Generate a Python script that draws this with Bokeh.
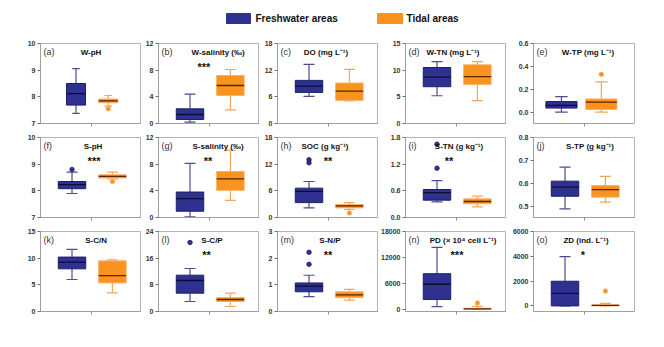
from bokeh.plotting import figure
from bokeh.layouts import column, row
from bokeh.models import Range1d, FixedTicker, ColumnDataSource, Label, NumeralTickFormatter
from bokeh.embed import file_html
from bokeh.resources import INLINE
from bokeh.core.properties import value

# ---------------- data ----------------
groups = ["Freshwater areas", "Tidal areas"]
panel_tags = ["(a)", "(b)", "(c)", "(d)", "(e)", "(f)", "(g)", "(h)", "(i)", "(j)",
              "(k)", "(l)", "(m)", "(n)", "(o)"]
titles = ["W-pH", "W-salinity (‰)", "DO (mg L⁻¹)", "W-TN (mg L⁻¹)", "W-TP (mg L⁻¹)",
          "S-pH", "S-salinity (‰)", "SOC (g kg⁻¹)", "S-TN (g kg⁻¹)", "S-TP (g kg⁻¹)",
          "S-C/N", "S-C/P", "S-N/P", "PD (× 10⁴ cell L⁻¹)", "ZD (ind. L⁻¹)"]
signif = ["", "***", "", "", "", "***", "**", "**", "**", "", "", "**", "**", "***", "*"]

y_lo = [7, 0, 0, 0, -0.1, 7, 0, 0, 0, 0.45, 0, 0, 0, -500, -450]
y_hi = [10, 12, 18, 15, 0.6, 10, 12, 18, 1.8, 0.8, 15, 24, 3, 18000, 6000]
y_ticks = [[7, 8, 9, 10], [0, 4, 8, 12], [0, 6, 12, 18], [0, 5, 10, 15], [0.0, 0.2, 0.4, 0.6],
           [7, 8, 9, 10], [0, 4, 8, 12], [0, 6, 12, 18], [0.0, 0.6, 1.2, 1.8], [0.5, 0.6, 0.7, 0.8],
           [0, 5, 10, 15], [0, 8, 16, 24], [0, 1, 2, 3], [0, 6000, 12000, 18000], [0, 2000, 4000, 6000]]
tick_format = ["0", "0", "0", "0", "0.0", "0", "0", "0", "0.0", "0.0", "0", "0", "0", "0", "0"]

fresh_low = [7.38, 0.2, 6.1, 5.2, 0.0, 7.9, 0.1, 2.16, 0.35, 0.488, 6.0, 3.0, 0.56, 610, 0]
fresh_q1 = [7.69, 0.6, 7.0, 6.9, 0.035, 8.08, 0.94, 3.35, 0.39, 0.543, 8.0, 5.5, 0.74, 2290, 0]
fresh_med = [8.12, 1.35, 8.4, 8.7, 0.058, 8.23, 2.83, 5.9, 0.56, 0.583, 9.26, 9.3, 0.95, 5800, 1010]
fresh_q3 = [8.5, 2.2, 9.7, 10.5, 0.092, 8.35, 3.82, 6.6, 0.63, 0.609, 10.2, 10.9, 1.07, 8240, 1990]
fresh_high = [9.06, 4.4, 13.3, 11.6, 0.136, 8.7, 8.13, 8.1, 0.83, 0.67, 11.66, 12.9, 1.36, 14340, 3980]
fresh_out = [[], [], [], [], [], [8.8], [], [13.0, 12.3], [1.11, 1.65], [], [], [20.7], [2.22, 1.77], [], []]

tidal_low = [7.65, 2.05, 5.1, 4.3, 0.0, 8.45, 2.58, 1.8, 0.24, 0.517, 3.5, 1.5, 0.43, 0, 0]
tidal_q1 = [7.78, 4.2, 5.2, 7.3, 0.023, 8.48, 4.07, 2.16, 0.31, 0.539, 5.36, 3.0, 0.52, 40, 0]
tidal_med = [7.85, 5.7, 7.3, 8.8, 0.087, 8.54, 5.8, 2.6, 0.36, 0.572, 6.74, 3.6, 0.62, 120, 50]
tidal_q3 = [7.92, 7.2, 9.1, 11.0, 0.115, 8.6, 6.9, 2.9, 0.42, 0.59, 9.5, 4.2, 0.74, 250, 80]
tidal_high = [8.05, 8.1, 12.2, 11.6, 0.265, 8.7, 10.1, 3.35, 0.48, 0.63, 9.7, 5.5, 0.83, 700, 210]
tidal_out = [[7.55], [], [], [], [0.33], [8.35], [], [1.04], [], [], [], [], [], [1450], [1200]]

# ---------------- styles ----------------
BLUE_FILL, BLUE_LINE, BLUE_WHISK, BLUE_MED = "#2e3190", "#1d1f6a", "#4a4e8c", "#0c0c30"
ORG_FILL, ORG_LINE, ORG_WHISK, ORG_MED = "#f7931e", "#fbb06a", "#f5a55e", "#5a2500"
FONT = "Liberation Sans"
FRAME_W, FRAME_H = 101, 80
border_left = [40, 17, 18, 27, 27]
border_right = [0, 0, 0, 0, 30]
x_ranges = {0: (-0.1, 3.03), 4: (0.30, 2.83)}
box_widths = {0: 0.59, 4: 0.78}
title_frac = [0.5, 0.59, 0.48, 0.47, 0.54, 0.52, 0.59, 0.47, 0.53, 0.56, 0.55, 0.53, 0.52, 0.57, 0.52]
star_frac = [0.5, 0.45, 0.5, 0.5, 0.5, 0.53, 0.49, 0.50, 0.43, 0.5, 0.5, 0.475, 0.5, 0.51, 0.49]


def make_panel(i):
    col = i % 5
    x0, x1 = x_ranges.get(i, (0.22, 2.72))
    bw = box_widths.get(i, 0.68)
    y0, y1 = y_lo[i], y_hi[i]
    p = figure(frame_width=FRAME_W, frame_height=FRAME_H,
               x_range=Range1d(x0, x1), y_range=Range1d(y0, y1),
               output_backend="svg", toolbar_location=None,
               min_border_left=border_left[col], min_border_right=border_right[col],
               min_border_top=8, min_border_bottom=6)
    p.background_fill_color = "white"
    p.border_fill_color = "white"
    p.outline_line_color = "#b3b3b3"
    p.xgrid.grid_line_color = None
    p.ygrid.grid_line_color = None

    ya = p.yaxis[0]
    ya.ticker = FixedTicker(ticks=y_ticks[i])
    ya.formatter = NumeralTickFormatter(format=tick_format[i])
    ya.axis_line_color = "#a0a0a0"
    ya.major_tick_line_color = "#707070"
    ya.major_tick_out = 3
    ya.major_tick_in = 0
    ya.minor_tick_line_color = None
    ya.major_label_standoff = 2
    ya.major_label_text_font = FONT
    ya.major_label_text_font_size = "7px"
    ya.major_label_text_font_style = "bold"
    ya.major_label_text_color = "#333333"

    xa = p.xaxis[0]
    xa.ticker = FixedTicker(ticks=[(x0 + x1) / 2])
    xa.axis_line_color = "#a0a0a0"
    xa.major_tick_line_color = "#909090"
    xa.major_tick_out = 3
    xa.major_tick_in = 0
    xa.minor_tick_line_color = None
    xa.major_label_text_color = None
    xa.major_label_text_font_size = "0px"
    xa.major_label_standoff = 0

    src = ColumnDataSource(dict(
        x=[1, 2],
        low=[fresh_low[i], tidal_low[i]],
        q1=[fresh_q1[i], tidal_q1[i]],
        med=[fresh_med[i], tidal_med[i]],
        q3=[fresh_q3[i], tidal_q3[i]],
        high=[fresh_high[i], tidal_high[i]],
        xl=[1 - bw / 2, 2 - bw / 2], xr=[1 + bw / 2, 2 + bw / 2],
        cl=[1 - bw * 0.2, 2 - bw * 0.2], cr=[1 + bw * 0.2, 2 + bw * 0.2],
        fill=[BLUE_FILL, ORG_FILL], line=[BLUE_LINE, ORG_LINE],
        whisk=[BLUE_WHISK, ORG_WHISK], medc=[BLUE_MED, ORG_MED],
    ))
    # whiskers
    p.segment(x0="x", y0="low", x1="x", y1="q1", source=src, line_color="whisk", line_width=1.2)
    p.segment(x0="x", y0="q3", x1="x", y1="high", source=src, line_color="whisk", line_width=1.2)
    p.segment(x0="cl", y0="low", x1="cr", y1="low", source=src, line_color="whisk", line_width=1.2)
    p.segment(x0="cl", y0="high", x1="cr", y1="high", source=src, line_color="whisk", line_width=1.2)
    # boxes
    p.vbar(x="x", width=bw, bottom="q1", top="q3", source=src,
           fill_color="fill", line_color="line", line_width=1)
    p.segment(x0="xl", y0="med", x1="xr", y1="med", source=src, line_color="medc", line_width=1.3)

    # outliers
    ox, oy, oc, ol = [], [], [], []
    for v in fresh_out[i]:
        ox.append(1); oy.append(v); oc.append(BLUE_FILL); ol.append(BLUE_LINE)
    for v in tidal_out[i]:
        ox.append(2); oy.append(v); oc.append(ORG_FILL); ol.append(ORG_LINE)
    if ox:
        p.scatter(x=ox, y=oy, size=4.5, fill_color=oc, line_color=ol, line_width=0.8)

    # texts
    def ypix(px):
        return y1 - px / FRAME_H * (y1 - y0)

    def xfrac(f):
        return x0 + f * (x1 - x0)

    p.add_layout(Label(x=xfrac(0.03), y=ypix(8.5), text=panel_tags[i], text_align="left",
                       text_baseline="middle", text_font=FONT, text_font_size="9px",
                       text_color="#333333"))
    p.add_layout(Label(x=xfrac(title_frac[i]), y=ypix(8.5), text=titles[i], text_align="center",
                       text_baseline="middle", text_font=FONT, text_font_size="8px",
                       text_font_style="bold", text_color="#111111"))
    if signif[i]:
        p.add_layout(Label(x=xfrac(star_frac[i]), y=ypix(23), text=signif[i], text_align="center",
                           text_baseline="middle", text_font=FONT, text_font_size="11px",
                           text_font_style="bold", text_color="#111111"))
    return p


# legend strip
leg = figure(width=664, height=35, x_range=Range1d(0, 664), y_range=Range1d(35, 0),
             output_backend="svg", toolbar_location=None, min_border=0)
leg.axis.visible = False
leg.grid.grid_line_color = None
leg.outline_line_color = None
leg_src = ColumnDataSource(dict(
    left=[226, 377], right=[250, 402], top=[13, 13], bottom=[23, 23],
    color=[BLUE_FILL, ORG_FILL], tx=[255, 406], ty=[18, 18], label=groups))
leg.quad(left="left", right="right", top="top", bottom="bottom", fill_color="color",
         line_color="color", source=leg_src)
leg.text(x="tx", y="ty", text="label", source=leg_src, text_font=value(FONT),
         text_font_size="10px", text_font_style="bold", text_baseline="middle",
         text_color="#111111")

panels = [make_panel(i) for i in range(15)]
layout = column(leg, row(*panels[0:5]), row(*panels[5:10]), row(*panels[10:15]))

open("out.html", "w").write(file_html(layout, INLINE))
